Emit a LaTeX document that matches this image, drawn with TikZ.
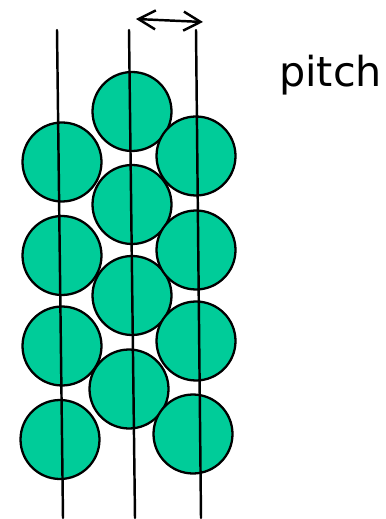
\documentclass[tikz,border=0pt]{standalone}
\usepackage{fontspec}
\setmainfont{DejaVu Sans}
\usetikzlibrary{arrows.meta}
\definecolor{ballgreen}{HTML}{00CC99}
\tikzset{
  every picture/.style={line join=round, line cap=round},
  ball/.style={circle, draw=black, line width=1.3pt, fill=ballgreen, inner sep=0pt, minimum size=1.58cm},
  wire/.style={line width=1.4pt},
  pitcharrow/.style={line width=1.4pt, {Straight Barb[length=3.4mm,width=3.8mm]}-{Straight Barb[length=3.4mm,width=3.8mm]}},
}

\begin{document}
\begin{tikzpicture}[x=0.02cm,y=-0.02cm]
\useasboundingbox (0,0) rectangle (385,519);
% balls, column by column
\foreach \name/\px/\py in {l1/62/162, l2/62/255.5, l3/62/346, l4/60/439.5,
                          c1/132/111.5, c2/132/204.5, c3/132/295.5, c4/129/389,
                          r1/196/156, r2/196/250, r3/196/341, r4/193/434}
  \node[ball] (\name) at (\px,\py) {};
% wires
\coordinate (wl-top) at (57,30);  \coordinate (wl-bot) at (63,518);
\coordinate (wc-top) at (129,30); \coordinate (wc-bot) at (135,518);
\coordinate (wr-top) at (196,30); \coordinate (wr-bot) at (201,518);
\draw[wire] (wl-top) -- (wl-bot);
\draw[wire] (wc-top) -- (wc-bot);
\draw[wire] (wr-top) -- (wr-bot);
% pitch
\coordinate (p-left) at (136,19);
\coordinate (p-right) at (203,22);
\draw[pitcharrow] (p-left) -- (p-right);
\node[anchor=base, font=\fontsize{23.5}{28}\selectfont, inner sep=0pt] (pitch) at (330.5,87) {pitch};
\end{tikzpicture}
\end{document}
